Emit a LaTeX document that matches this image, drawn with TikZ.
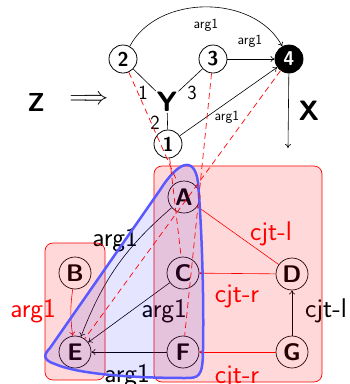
\documentclass[tikz,border=0pt]{standalone}
\usetikzlibrary{arrows.meta}
\begin{document}
\begin{tikzpicture}[x=1pt,y=-1pt,
  tn/.style={circle,draw,line width=0.8pt,minimum size=28pt,inner sep=0pt,font=\fontsize{20}{20}\selectfont\sffamily\bfseries},
  bn/.style={circle,draw,line width=0.7pt,minimum size=32pt,inner sep=0pt,font=\fontsize{24}{24}\selectfont\sffamily\bfseries},
  big/.style={inner sep=1pt,font=\fontsize{28}{28}\selectfont\sffamily\bfseries},
  sl/.style={font=\fontsize{14}{14}\selectfont\sffamily},
  ml/.style={font=\fontsize{20}{20}\selectfont\sffamily},
  bl/.style={font=\fontsize{27}{27}\selectfont\sffamily},
  edge/.style={line width=0.6pt},
  align/.style={red,line width=0.7pt,dash pattern=on 6pt off 4pt},
  grp/.style={draw=red,line width=0.7pt,fill=red,fill opacity=0.15,rounded corners=8pt},
  >={To[length=4pt,width=6pt]}
]
\useasboundingbox (0,0) rectangle (350,384);
% top graph
\node[tn] (n2) at (123,59) {2};
\node[tn] (n3) at (213,59) {3};
\node[tn,fill=black,text=white] (n4) at (289,59) {4};
\node[tn] (n1) at (168,144) {1};
\node[big] (Y) at (167,102) {Y};
\node[big,font=\fontsize{26}{26}\selectfont\sffamily\bfseries] (Z) at (36,102) {Z};
\node[big] (X) at (309,111) {X};
\node[font=\fontsize{24}{24}\selectfont] (imp) at (89,100) {$\Longrightarrow$};
\coordinate (xend) at (288,148);
\draw[edge] (n2) -- (Y);
\draw[edge] (n3) -- (Y);
\draw[edge] (Y) -- (n1);
\draw[edge,->] (n2) to[out=62,in=118] (n4);
\draw[edge,->] (n3) -- (n4);
\draw[edge,->] (n1) -- (n4);
\draw[edge,->] (n4) -- (xend);
\node[sl] (la1) at (206,25) {arg1};
\node[sl] (la2) at (250,41) {arg1};
\node[sl] (la3) at (227,117) {arg1};
\node[ml] (ly1) at (143,93) {1};
\node[ml] (ly3) at (192,93) {3};
\node[ml] (ly2) at (155,123) {2};
% bottom graph
\node[bn] (A) at (184,197) {A};
\node[bn] (C) at (183,273) {C};
\node[bn] (F) at (183,352) {F};
\node[bn] (B) at (75,273) {B};
\node[bn] (E) at (75,352) {E};
\node[bn] (D) at (292,274) {D};
\node[bn] (G) at (292,352) {G};
\draw[edge,->] (A) to[bend right=14] (E);
\draw[edge,->] (C) -- (E);
\draw[edge,->] (F) -- (E);
\draw[edge,->,red] (B) to[bend right=8] (E);
\draw[edge,->,red] (D) -- (C);
\draw[edge,->,red] (G) -- (F);
\draw[edge,->] (G) -- (D);
\draw[edge,red] (A) -- (D);
\node[bl] (lb1) at (115,240) {arg1};
\node[bl,red] (lb2) at (271,234) {cjt-l};
\node[bl,red] (lb3) at (237,296) {cjt-r};
\node[bl] (lb4) at (164,311) {arg1};
\node[bl] (lb5) at (326,311) {cjt-l};
\node[bl,red] (lb6) at (33,311) {arg1};
\node[bl] (lb7) at (127,376) {arg1};
\node[bl,red] (lb8) at (237,377) {cjt-r};
% groups
\draw[grp] (154,166) rectangle (322,382);
\draw[grp] (45,243) rectangle (105,380);
\draw[line width=2.5pt,draw=blue!65!white,fill=blue,fill opacity=0.1]
  (50,348) -- (160,190) .. controls (177,163) and (194,154) .. (198,182)
  .. controls (202,230) and (204,300) .. (203,350)
  .. controls (203,378) and (198,378) .. (185,378)
  .. controls (140,378) and (80,375) .. (55,364)
  .. controls (42,360) and (44,354) .. cycle;
% alignments
\draw[align] (n2) -- (A);
\draw[align] (n1) -- (C);
\draw[align] (n3) -- (F);
\draw[align] (n4) -- (E);
\end{tikzpicture}
\end{document}
